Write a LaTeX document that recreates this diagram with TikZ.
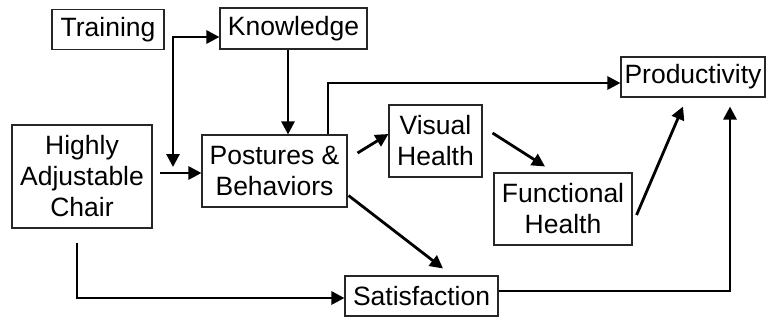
\documentclass[tikz,border=0pt]{standalone}
\usepackage{fontspec}
\setmainfont{Liberation Sans}
\usetikzlibrary{arrows.meta,calc}
\begin{document}
\begin{tikzpicture}[x=1pt,y=-1pt,
  box/.style={draw=black!85,line width=1.1pt,inner sep=0pt,align=center,
    font=\fontsize{26.5}{31}\selectfont},
  arr/.style={line width=2.8pt,-{Triangle[length=13pt,width=13pt]}},
  barr/.style={line width=2.8pt,{Triangle[length=13pt,width=13pt]}-{Triangle[length=13pt,width=13pt]}}]
\useasboundingbox[fill=white] (0,0) rectangle (770,322);
\node[box,minimum width=112pt,minimum height=40pt] (training) at (108,29.5) {Training};
\node[box,minimum width=147pt,minimum height=41pt] (knowledge) at (293.5,28.5) {Knowledge};
\node[box,minimum width=140pt,minimum height=103pt] (chair) at (82,176.5) {Highly\\Adjustable\\Chair};
\node[box,minimum width=145pt,minimum height=72pt] (postures) at (274.5,171) {Postures \&\\Behaviors};
\node[box,minimum width=144pt,minimum height=40pt] (productivity) at (693,77) {Productivity};
\node[box,minimum width=93pt,minimum height=72pt] (visual) at (435.5,141) {Visual\\Health};
\node[box,minimum width=138pt,minimum height=72pt] (functional) at (563,209) {Functional\\Health};
\node[box,minimum width=153pt,minimum height=40pt] (satisfaction) at (421.5,296) {Satisfaction};
% coordinates
\coordinate (tk) at (173,37);
\coordinate (tkb) at (173,167);
\coordinate (kx) at (288,0);
\coordinate (pp) at (328,83);
\coordinate (sp) at (730,291);
\coordinate (cs) at (77,298);
\coordinate (ch) at (160,173);
% connectors
\draw[barr] (tkb) -- (tk) -- (knowledge.west |- tk);
\draw[arr] (knowledge.south -| kx) -- (postures.north -| kx);
\draw[arr] (ch) -- (postures.west |- ch);
\draw[arr] (postures.north -| pp) -- (pp) -- (productivity.west |- pp);
\draw[arr] ($(postures.east)+(10,-18)$) -- ($(visual.west)+(0,-7)$);
\draw[arr] ($(visual.east)+(10,-8)$) -- ($(functional.north)+(-18,-6)$);
\draw[arr] ($(functional.east)+(4,6)$) -- ($(productivity.south)+(-10,9)$);
\draw[arr] ($(postures.south east)+(1,-12)$) -- ($(satisfaction.north)+(21.5,-7)$);
\draw[arr] (satisfaction.east |- sp) -- (sp) -- ($(productivity.south)+(37,9)$);
\draw[arr] ($(chair.south)+(-5,14)$) -- (cs) -- (satisfaction.west |- cs);
\end{tikzpicture}
\end{document}
